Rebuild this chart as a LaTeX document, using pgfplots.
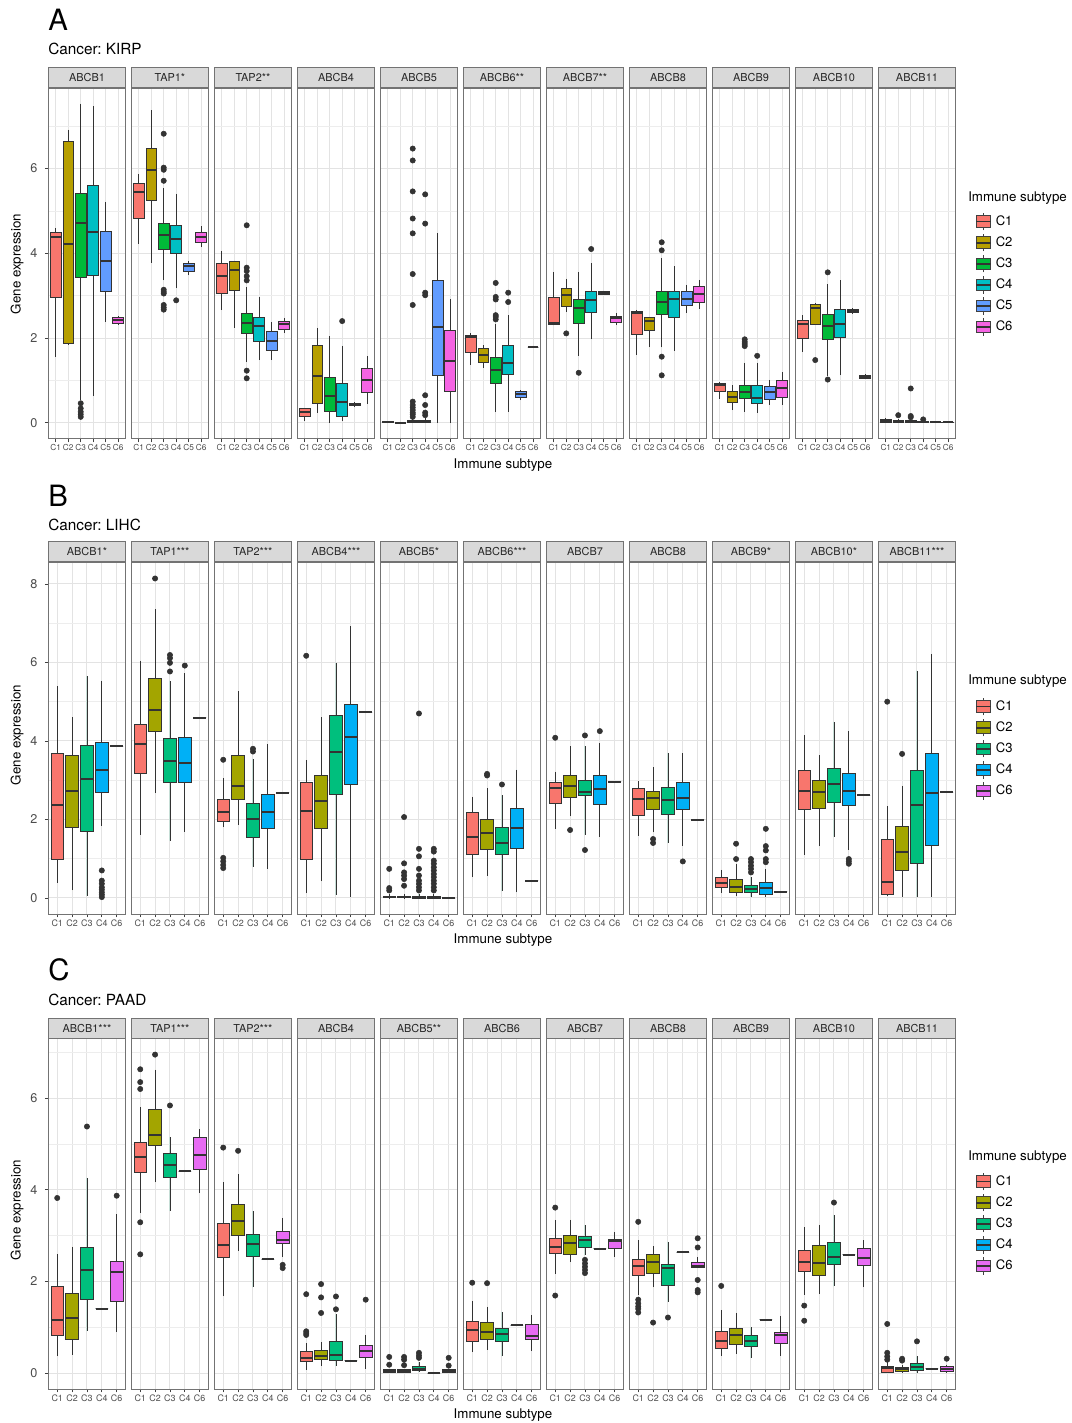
\documentclass[border=0pt]{standalone}
\usepackage{fontspec}
\setmainfont{TeX Gyre Heros}
\usepackage{pgfplots}
\pgfplotsset{compat=1.18}
\usepgfplotslibrary{statistics}
\frenchspacing

\definecolor{c1}{HTML}{F8766D}
\definecolor{c2}{HTML}{B79F00}
\definecolor{c3}{HTML}{00BA38}
\definecolor{c4}{HTML}{00BFC4}
\definecolor{c5}{HTML}{619CFF}
\definecolor{c6}{HTML}{F564E3}
\definecolor{d1}{HTML}{F8766D}
\definecolor{d2}{HTML}{A3A500}
\definecolor{d3}{HTML}{00BF7D}
\definecolor{d4}{HTML}{00B0F6}
\definecolor{d5}{HTML}{E76BF3}

\newcommand{\bx}[7]{\addplot[forget plot, fill=#2, draw=black!80, line width=0.6pt,
  boxplot prepared={draw direction=y, draw position=#1, lower whisker=#3, lower quartile=#4, median=#5, upper quartile=#6, upper whisker=#7}] coordinates {};}
\newcommand{\one}[3]{\bx{#1}{#2}{#3}{#3}{#3}{#3}{#3}}
\newcommand{\outl}[1]{\addplot[forget plot, only marks, mark=*, mark size=2pt, color=black!80] coordinates {#1};}

\pgfplotsset{
  fbase/.style={
    scale only axis, width=57.975pt, anchor=south west, xmin=0.4,
    tick pos=left, tick align=outside, major tick length=2.6pt, minor tick length=0pt,
    tick style={black!75, line width=0.5pt},
    axis line style={black!55, line width=0.6pt},
    grid=both,
    major grid style={black!11, line width=0.7pt},
    minor grid style={black!7, line width=0.4pt},
    xticklabel style={font=\fontsize{6.7}{7}\selectfont, text=black!70, inner sep=1.5pt},
    yticklabel style={font=\fontsize{9.5}{10}\selectfont, text=black!70, xshift=-2pt},
    /pgf/number format/assume math mode=true,
    every axis title shift=0pt,
    title style={at={(0.5,1)}, anchor=south, draw=black!55, line width=0.6pt, fill=black!15,
      minimum width=57.975pt, minimum height=15pt, inner sep=0pt,
      font=\fontsize{8.2}{9}\selectfont, text=black!85},
    boxplot/draw direction=y,
    boxplot/box extend=0.85, boxplot/whisker extend=0,
    boxplot/every median/.style={line width=1.5pt},
  },
  fA/.style={fbase, height=263.1pt, ymin=-0.377, ymax=7.9, xmax=6.6,
    xtick={1,2,3,4,5,6}, xticklabels={C1,C2,C3,C4,C5,C6},
    xticklabel style={font=\fontsize{6.2}{7}\selectfont},
    ytick={0,2,4,6}, minor ytick={1,3,5,7}},
  fB/.style={fbase, height=264pt, ymin=-0.41, ymax=8.56, xmax=5.6,
    xtick={1,2,3,4,5}, xticklabels={C1,C2,C3,C4,C6},
    ytick={0,2,4,6,8}, minor ytick={1,3,5,7}},
  fC/.style={fbase, height=262.8pt, ymin=-0.35, ymax=7.3, xmax=5.6,
    xtick={1,2,3,4,5}, xticklabels={C1,C2,C3,C4,C6},
    ytick={0,2,4,6}, minor ytick={1,3,5,7}},
  noy/.style={yticklabels={}, ytick style={draw=none}},
  boxkey/.style={legend image code/.code={
      \draw[black!75, line width=0.6pt] (5.5pt,-6.5pt) -- (5.5pt,6.5pt);
      \draw[black!75, line width=0.6pt, fill=#1] (0pt,-4.4pt) rectangle (11pt,4.4pt);
      \draw[black!80, line width=1.2pt] (0pt,0pt) -- (11pt,0pt);}},
  leg/.style={legend cell align=left,
    legend style={at={(1.251,#1)}, anchor=north west, draw=none, fill=none,
      font=\fontsize{9.8}{11}\selectfont, row sep=2.2pt, column sep=3.2pt,
      inner sep=0pt, nodes={inner sep=0pt}}},
}

\begin{document}
\begin{tikzpicture}
\useasboundingbox (0pt,0pt) rectangle (803.25pt,1067.25pt);
\tikzset{lbl/.style={inner sep=0pt}}

% ================= PANEL A =================
\node[lbl, anchor=west, font=\fontsize{22}{24}\selectfont] at (36pt,1052.25pt) {A};
\node[lbl, anchor=west, font=\fontsize{11.5}{13}\selectfont] at (36pt,1030.5pt) {Cancer: KIRP};
\node[lbl, rotate=90, font=\fontsize{10}{12}\selectfont] at (12.75pt,869.25pt) {Gene expression};
\node[lbl, font=\fontsize{10}{12}\selectfont] at (377.25pt,718.5pt) {Immune subtype};
\node[lbl, anchor=west, font=\fontsize{10}{12}\selectfont] at (726pt,918.5pt) {Immune subtype};

\begin{axis}[fA, at={(36.225pt,738.15pt)}, title={ABCB1}]
\bx{1}{c1}{1.56}{2.96}{4.39}{4.50}{4.60}
\bx{2}{c2}{1.85}{1.87}{4.21}{6.63}{6.92}
\bx{3}{c3}{0.53}{3.42}{4.72}{5.41}{7.53}
\bx{4}{c4}{0.63}{3.48}{4.50}{5.61}{7.47}
\bx{5}{c5}{2.38}{3.09}{3.81}{4.51}{5.21}
\bx{6}{c6}{2.33}{2.34}{2.42}{2.48}{2.52}
\outl{(3,0.46)(3,0.34)(3,0.26)(3,0.20)(3,0.14)}
\end{axis}
\begin{axis}[fA, noy, at={(98.475pt,738.15pt)}, title={TAP1*}]
\bx{1}{c1}{4.23}{4.82}{5.45}{5.66}{5.88}
\bx{2}{c2}{3.78}{5.25}{5.97}{6.47}{7.37}
\bx{3}{c3}{3.36}{4.09}{4.43}{4.70}{5.53}
\bx{4}{c4}{3.17}{3.99}{4.33}{4.66}{5.41}
\bx{5}{c5}{3.48}{3.58}{3.69}{3.76}{3.82}
\bx{6}{c6}{4.14}{4.25}{4.39}{4.49}{4.64}
\outl{(3,6.82)(3,6.02)(3,5.97)(3,5.71)(3,3.14)(3,3.09)(3,3.05)(3,2.78)(3,2.72)(3,2.67)(4,2.89)}
\end{axis}
\begin{axis}[fA, noy, at={(160.725pt,738.15pt)}, title={TAP2**}]
\bx{1}{c1}{2.66}{3.05}{3.46}{3.76}{4.06}
\bx{2}{c2}{2.24}{3.13}{3.60}{3.80}{3.82}
\bx{3}{c3}{1.44}{2.12}{2.36}{2.59}{3.21}
\bx{4}{c4}{1.48}{1.93}{2.29}{2.48}{2.97}
\bx{5}{c5}{1.48}{1.70}{1.93}{2.15}{2.38}
\bx{6}{c6}{2.11}{2.20}{2.32}{2.40}{2.48}
\outl{(3,4.66)(3,3.66)(3,3.58)(3,3.46)(3,3.36)(3,1.23)(3,1.05)}
\end{axis}
\begin{axis}[fA, noy, at={(222.975pt,738.15pt)}, title={ABCB4}]
\bx{1}{c1}{0.05}{0.14}{0.26}{0.33}{0.35}
\bx{2}{c2}{0.24}{0.46}{1.10}{1.82}{2.24}
\bx{3}{c3}{0.00}{0.28}{0.63}{1.07}{2.04}
\bx{4}{c4}{0.05}{0.14}{0.48}{0.93}{1.82}
\bx{5}{c5}{0.38}{0.40}{0.43}{0.46}{0.48}
\bx{6}{c6}{0.44}{0.72}{1.01}{1.28}{1.57}
\outl{(4,2.40)}
\end{axis}
\begin{axis}[fA, noy, at={(285.225pt,738.15pt)}, title={ABCB5}]
\bx{1}{c1}{0.00}{0.01}{0.02}{0.03}{0.04}
\bx{2}{c2}{-0.01}{0.00}{0.00}{0.01}{0.02}
\bx{3}{c3}{0.00}{0.00}{0.02}{0.05}{0.10}
\bx{4}{c4}{0.00}{0.01}{0.03}{0.06}{0.12}
\bx{5}{c5}{0.00}{1.12}{2.25}{3.36}{4.48}
\bx{6}{c6}{0.00}{0.73}{1.45}{2.17}{2.91}
\outl{(3,6.47)(3,6.19)(3,5.46)(3,4.82)(3,4.47)(3,3.51)(3,2.78)(3,0.50)(3,0.42)(3,0.36)(3,0.30)(3,0.24)(3,0.20)(3,0.14)(4,5.39)(4,4.70)(4,3.07)(4,3.01)(4,0.65)(4,0.42)(4,0.24)(4,0.18)}
\end{axis}
\begin{axis}[fA, noy, at={(347.475pt,738.15pt)}, title={ABCB6**}]
\bx{1}{c1}{1.36}{1.67}{2.03}{2.07}{2.11}
\bx{2}{c2}{1.30}{1.42}{1.60}{1.75}{1.83}
\bx{3}{c3}{0.26}{0.94}{1.24}{1.54}{2.34}
\bx{4}{c4}{0.26}{1.14}{1.42}{1.82}{2.54}
\bx{5}{c5}{0.53}{0.59}{0.67}{0.73}{0.77}
\one{6}{c6}{1.79}
\outl{(3,3.30)(3,2.97)(3,2.91)(3,2.54)(3,2.50)(3,2.44)(4,3.07)(4,2.85)}
\end{axis}
\begin{axis}[fA, noy, at={(409.725pt,738.15pt)}, title={ABCB7**}]
\bx{1}{c1}{2.30}{2.32}{2.36}{2.96}{3.56}
\bx{2}{c2}{2.62}{2.74}{3.01}{3.16}{3.40}
\bx{3}{c3}{1.58}{2.34}{2.70}{2.92}{3.56}
\bx{4}{c4}{1.97}{2.60}{2.89}{3.11}{3.77}
\bx{5}{c5}{3.02}{3.04}{3.07}{3.10}{3.12}
\bx{6}{c6}{2.30}{2.37}{2.48}{2.52}{2.58}
\outl{(2,2.11)(3,1.18)(4,4.10)}
\end{axis}
\begin{axis}[fA, noy, at={(471.975pt,738.15pt)}, title={ABCB8}]
\bx{1}{c1}{1.60}{2.09}{2.58}{2.64}{2.67}
\bx{2}{c2}{1.78}{2.17}{2.41}{2.48}{2.50}
\bx{3}{c3}{1.78}{2.56}{2.85}{3.11}{3.88}
\bx{4}{c4}{1.70}{2.48}{2.91}{3.11}{3.69}
\bx{5}{c5}{2.60}{2.76}{2.93}{3.09}{3.26}
\bx{6}{c6}{2.68}{2.85}{3.03}{3.21}{3.38}
\outl{(3,4.26)(3,4.07)(3,1.56)(3,1.12)}
\end{axis}
\begin{axis}[fA, noy, at={(534.225pt,738.15pt)}, title={ABCB9}]
\bx{1}{c1}{0.57}{0.73}{0.89}{0.93}{0.96}
\bx{2}{c2}{0.30}{0.47}{0.61}{0.73}{0.89}
\bx{3}{c3}{0.26}{0.57}{0.72}{0.89}{1.42}
\bx{4}{c4}{0.24}{0.46}{0.59}{0.89}{1.42}
\bx{5}{c5}{0.43}{0.56}{0.72}{0.85}{1.01}
\bx{6}{c6}{0.42}{0.60}{0.81}{1.01}{1.20}
\outl{(3,1.97)(3,1.91)(3,1.86)(3,1.81)(4,1.58)}
\end{axis}
\begin{axis}[fA, noy, at={(596.475pt,738.15pt)}, title={ABCB10}]
\bx{1}{c1}{1.67}{1.99}{2.32}{2.42}{2.54}
\bx{2}{c2}{2.32}{2.32}{2.72}{2.80}{2.83}
\bx{3}{c3}{1.10}{1.97}{2.28}{2.56}{3.27}
\bx{4}{c4}{1.12}{2.01}{2.34}{2.67}{3.36}
\bx{5}{c5}{2.58}{2.60}{2.64}{2.68}{2.70}
\bx{6}{c6}{1.03}{1.05}{1.08}{1.12}{1.15}
\outl{(2,1.48)(3,1.02)(3,3.55)}
\end{axis}
\begin{axis}[fA, noy, at={(658.725pt,738.15pt)}, title={ABCB11}, leg=0.6455]
\bx{1}{c1}{0.00}{0.02}{0.05}{0.08}{0.12}
\bx{2}{c2}{0.00}{0.02}{0.04}{0.06}{0.08}
\bx{3}{c3}{0.00}{0.00}{0.02}{0.05}{0.10}
\bx{4}{c4}{0.00}{0.01}{0.02}{0.04}{0.06}
\bx{5}{c5}{0.01}{0.01}{0.02}{0.02}{0.03}
\bx{6}{c6}{0.01}{0.01}{0.02}{0.02}{0.03}
\outl{(2,0.18)(3,0.81)(3,0.16)(3,0.13)(4,0.08)}
\addlegendimage{boxkey=c1}\addlegendentry{C1}
\addlegendimage{boxkey=c2}\addlegendentry{C2}
\addlegendimage{boxkey=c3}\addlegendentry{C3}
\addlegendimage{boxkey=c4}\addlegendentry{C4}
\addlegendimage{boxkey=c5}\addlegendentry{C5}
\addlegendimage{boxkey=c6}\addlegendentry{C6}
\end{axis}

% ================= PANEL B =================
\node[lbl, anchor=west, font=\fontsize{22}{24}\selectfont] at (36pt,695.25pt) {B};
\node[lbl, anchor=west, font=\fontsize{11.5}{13}\selectfont] at (36pt,673.5pt) {Cancer: LIHC};
\node[lbl, rotate=90, font=\fontsize{10}{12}\selectfont] at (12.75pt,516pt) {Gene expression};
\node[lbl, font=\fontsize{10}{12}\selectfont] at (377.25pt,362.25pt) {Immune subtype};
\node[lbl, anchor=west, font=\fontsize{10}{12}\selectfont] at (726pt,556.25pt) {Immune subtype};

\begin{axis}[fB, at={(36.225pt,381.75pt)}, title={ABCB1*}]
\bx{1}{d1}{0.38}{0.98}{2.38}{3.69}{5.39}
\bx{2}{d2}{0.19}{1.79}{2.73}{3.63}{4.60}
\bx{3}{d3}{0.06}{1.70}{3.03}{3.88}{5.65}
\bx{4}{d4}{1.84}{2.69}{3.27}{3.97}{5.54}
\one{5}{d5}{3.86}
\outl{(4,0.70)(4,0.44)(4,0.36)(4,0.27)(4,0.21)(4,0.14)(4,0.08)(4,0.02)}
\end{axis}
\begin{axis}[fB, noy, at={(98.475pt,381.75pt)}, title={TAP1***}]
\bx{1}{d1}{1.61}{3.17}{3.92}{4.43}{6.03}
\bx{2}{d2}{2.67}{4.24}{4.79}{5.60}{7.36}
\bx{3}{d3}{1.46}{2.95}{3.50}{4.07}{5.54}
\bx{4}{d4}{1.69}{2.95}{3.43}{4.09}{5.73}
\one{5}{d5}{4.59}
\outl{(2,8.14)(3,6.19)(3,6.11)(3,5.99)(3,5.77)(4,5.92)}
\end{axis}
\begin{axis}[fB, noy, at={(160.725pt,381.75pt)}, title={TAP2***}]
\bx{1}{d1}{1.80}{1.94}{2.20}{2.52}{3.06}
\bx{2}{d2}{1.87}{2.50}{2.86}{3.63}{5.26}
\bx{3}{d3}{0.80}{1.55}{2.00}{2.41}{3.54}
\bx{4}{d4}{0.74}{1.77}{2.18}{2.65}{3.91}
\one{5}{d5}{2.68}
\outl{(1,3.52)(1,1.02)(1,0.93)(1,0.84)(1,0.76)(3,3.80)(3,3.73)}
\end{axis}
\begin{axis}[fB, noy, at={(222.975pt,381.75pt)}, title={ABCB4***}]
\bx{1}{d1}{0.12}{0.98}{2.21}{2.95}{3.52}
\bx{2}{d2}{0.42}{1.78}{2.46}{3.13}{4.60}
\bx{3}{d3}{0.08}{2.65}{3.73}{4.65}{5.99}
\bx{4}{d4}{0.03}{2.88}{4.09}{4.94}{6.92}
\one{5}{d5}{4.73}
\outl{(1,6.17)}
\end{axis}
\begin{axis}[fB, noy, at={(285.225pt,381.75pt)}, title={ABCB5*}]
\bx{1}{d1}{0.00}{0.01}{0.03}{0.05}{0.10}
\bx{2}{d2}{0.00}{0.01}{0.03}{0.05}{0.10}
\bx{3}{d3}{0.00}{0.00}{0.02}{0.04}{0.10}
\bx{4}{d4}{0.00}{0.00}{0.02}{0.04}{0.10}
\one{5}{d5}{0.00}
\outl{(1,0.74)(1,0.25)(1,0.19)(2,2.06)(2,0.88)(2,0.65)(2,0.57)(2,0.48)(2,0.31)(3,4.70)(3,1.25)(3,1.06)(3,0.74)(3,0.57)(3,0.44)(3,0.36)(3,0.27)(3,0.19)(4,1.25)(4,1.18)(4,0.95)(4,0.87)(4,0.78)(4,0.70)(4,0.61)(4,0.53)(4,0.44)(4,0.36)(4,0.27)(4,0.19)}
\end{axis}
\begin{axis}[fB, noy, at={(347.475pt,381.75pt)}, title={ABCB6***}]
\bx{1}{d1}{0.53}{1.10}{1.56}{2.17}{2.58}
\bx{2}{d2}{0.57}{1.23}{1.65}{1.99}{2.79}
\bx{3}{d3}{0.17}{1.10}{1.39}{1.80}{2.61}
\bx{4}{d4}{0.14}{1.27}{1.77}{2.27}{3.27}
\one{5}{d5}{0.44}
\outl{(2,3.16)(2,3.12)(3,2.89)}
\end{axis}
\begin{axis}[fB, noy, at={(409.725pt,381.75pt)}, title={ABCB7}]
\bx{1}{d1}{1.76}{2.42}{2.79}{2.95}{3.22}
\bx{2}{d2}{2.08}{2.56}{2.85}{3.12}{3.86}
\bx{3}{d3}{1.61}{2.61}{2.71}{2.99}{3.88}
\bx{4}{d4}{1.56}{2.39}{2.78}{3.12}{3.94}
\one{5}{d5}{2.96}
\outl{(1,4.08)(2,1.73)(3,4.14)(3,1.22)(4,4.25)}
\end{axis}
\begin{axis}[fB, noy, at={(471.975pt,381.75pt)}, title={ABCB8}]
\bx{1}{d1}{1.59}{2.11}{2.52}{2.78}{2.99}
\bx{2}{d2}{1.67}{2.25}{2.55}{2.71}{3.33}
\bx{3}{d3}{1.40}{2.14}{2.50}{2.82}{3.69}
\bx{4}{d4}{1.33}{2.25}{2.55}{2.95}{3.69}
\one{5}{d5}{1.99}
\outl{(2,1.50)(2,1.40)(4,0.93)}
\end{axis}
\begin{axis}[fB, noy, at={(534.225pt,381.75pt)}, title={ABCB9*}]
\bx{1}{d1}{0.13}{0.27}{0.37}{0.51}{0.72}
\bx{2}{d2}{0.06}{0.13}{0.29}{0.46}{0.87}
\bx{3}{d3}{0.03}{0.14}{0.23}{0.33}{0.53}
\bx{4}{d4}{0.03}{0.10}{0.25}{0.40}{0.74}
\one{5}{d5}{0.16}
\outl{(2,1.38)(2,0.99)(3,0.99)(3,0.91)(3,0.82)(3,0.74)(3,0.65)(4,1.76)(4,1.32)(4,1.21)(4,0.99)(4,0.91)}
\end{axis}
\begin{axis}[fB, noy, at={(596.475pt,381.75pt)}, title={ABCB10*}]
\bx{1}{d1}{1.10}{2.25}{2.72}{3.26}{4.15}
\bx{2}{d2}{1.32}{2.28}{2.69}{2.99}{3.63}
\bx{3}{d3}{1.56}{2.44}{2.90}{3.31}{4.48}
\bx{4}{d4}{1.23}{2.35}{2.73}{3.18}{4.26}
\one{5}{d5}{2.62}
\outl{(4,0.99)(4,0.93)(4,0.87)}
\end{axis}
\begin{axis}[fB, noy, at={(658.725pt,381.75pt)}, title={ABCB11***}, leg=0.6155]
\bx{1}{d1}{0.04}{0.08}{0.40}{1.50}{2.33}
\bx{2}{d2}{0.02}{0.71}{1.16}{1.83}{2.86}
\bx{3}{d3}{0.02}{0.88}{2.37}{3.24}{5.79}
\bx{4}{d4}{0.02}{1.35}{2.68}{3.67}{6.22}
\one{5}{d5}{2.69}
\outl{(1,5.00)(2,3.67)}
\addlegendimage{boxkey=d1}\addlegendentry{C1}
\addlegendimage{boxkey=d2}\addlegendentry{C2}
\addlegendimage{boxkey=d3}\addlegendentry{C3}
\addlegendimage{boxkey=d4}\addlegendentry{C4}
\addlegendimage{boxkey=d5}\addlegendentry{C6}
\end{axis}

% ================= PANEL C =================
\node[lbl, anchor=west, font=\fontsize{22}{24}\selectfont] at (36pt,339.75pt) {C};
\node[lbl, anchor=west, font=\fontsize{11.5}{13}\selectfont] at (36pt,317.25pt) {Cancer: PAAD};
\node[lbl, rotate=90, font=\fontsize{10}{12}\selectfont] at (12.75pt,159.75pt) {Gene expression};
\node[lbl, font=\fontsize{10}{12}\selectfont] at (377.25pt,6pt) {Immune subtype};
\node[lbl, anchor=west, font=\fontsize{10}{12}\selectfont] at (726pt,199.25pt) {Immune subtype};

\begin{axis}[fC, at={(36.225pt,25.5pt)}, title={ABCB1***}]
\bx{1}{d1}{0.36}{0.81}{1.16}{1.90}{2.60}
\bx{2}{d2}{0.40}{0.74}{1.21}{1.73}{2.76}
\bx{3}{d3}{0.92}{1.61}{2.24}{2.74}{4.26}
\one{4}{d4}{1.40}
\bx{5}{d5}{0.89}{1.56}{2.20}{2.43}{3.47}
\outl{(1,3.82)(3,5.38)(5,3.87)}
\end{axis}
\begin{axis}[fC, noy, at={(98.475pt,25.5pt)}, title={TAP1***}]
\bx{1}{d1}{3.50}{4.37}{4.72}{5.04}{5.81}
\bx{2}{d2}{4.16}{4.97}{5.20}{5.75}{6.62}
\bx{3}{d3}{3.54}{4.28}{4.54}{4.79}{5.15}
\one{4}{d4}{4.40}
\bx{5}{d5}{3.92}{4.45}{4.75}{5.15}{5.32}
\outl{(1,6.63)(1,6.35)(1,6.20)(1,3.29)(1,2.59)(2,6.95)(3,5.84)}
\end{axis}
\begin{axis}[fC, noy, at={(160.725pt,25.5pt)}, title={TAP2***}]
\bx{1}{d1}{1.67}{2.53}{2.79}{3.27}{4.16}
\bx{2}{d2}{2.67}{3.00}{3.32}{3.68}{4.34}
\bx{3}{d3}{1.87}{2.54}{2.82}{3.03}{3.54}
\one{4}{d4}{2.48}
\bx{5}{d5}{2.54}{2.83}{2.90}{3.10}{3.39}
\outl{(1,4.92)(2,4.85)(5,2.36)(5,2.29)}
\end{axis}
\begin{axis}[fC, noy, at={(222.975pt,25.5pt)}, title={ABCB4}]
\bx{1}{d1}{0.07}{0.25}{0.33}{0.47}{0.65}
\bx{2}{d2}{0.16}{0.29}{0.36}{0.49}{0.67}
\bx{3}{d3}{0.15}{0.27}{0.40}{0.70}{1.28}
\one{4}{d4}{0.27}
\bx{5}{d5}{0.09}{0.35}{0.47}{0.60}{0.83}
\outl{(1,1.72)(1,0.91)(1,0.87)(1,0.83)(2,1.94)(2,1.65)(2,1.31)(3,1.67)(3,1.39)(5,1.60)}
\end{axis}
\begin{axis}[fC, noy, at={(285.225pt,25.5pt)}, title={ABCB5**}]
\bx{1}{d1}{0.00}{0.02}{0.05}{0.08}{0.09}
\bx{2}{d2}{0.00}{0.02}{0.04}{0.07}{0.09}
\bx{3}{d3}{0.02}{0.05}{0.09}{0.15}{0.23}
\one{4}{d4}{0.00}
\bx{5}{d5}{0.00}{0.02}{0.04}{0.07}{0.09}
\outl{(1,0.35)(1,0.18)(2,0.35)(2,0.29)(2,0.17)(3,0.44)(3,0.38)(3,0.33)(5,0.33)(5,0.16)}
\end{axis}
\begin{axis}[fC, noy, at={(347.475pt,25.5pt)}, title={ABCB6}]
\bx{1}{d1}{0.45}{0.70}{0.93}{1.12}{1.58}
\bx{2}{d2}{0.51}{0.74}{0.89}{1.11}{1.45}
\bx{3}{d3}{0.36}{0.69}{0.85}{0.98}{1.33}
\one{4}{d4}{1.04}
\bx{5}{d5}{0.47}{0.74}{0.81}{1.05}{1.27}
\outl{(1,1.97)(2,1.96)}
\end{axis}
\begin{axis}[fC, noy, at={(409.725pt,25.5pt)}, title={ABCB7}]
\bx{1}{d1}{2.16}{2.61}{2.76}{2.94}{3.34}
\bx{2}{d2}{2.42}{2.58}{2.83}{3.01}{3.35}
\bx{3}{d3}{2.58}{2.74}{2.90}{2.98}{3.23}
\one{4}{d4}{2.71}
\bx{5}{d5}{2.53}{2.72}{2.88}{2.92}{3.07}
\outl{(1,3.61)(1,1.69)(3,2.47)(3,2.39)(3,2.32)(3,2.25)(3,2.18)}
\end{axis}
\begin{axis}[fC, noy, at={(471.975pt,25.5pt)}, title={ABCB8}]
\bx{1}{d1}{1.71}{2.13}{2.34}{2.47}{2.90}
\bx{2}{d2}{1.87}{2.18}{2.43}{2.59}{2.77}
\bx{3}{d3}{1.56}{1.92}{2.29}{2.36}{2.87}
\one{4}{d4}{2.63}
\bx{5}{d5}{2.30}{2.30}{2.34}{2.42}{2.54}
\outl{(1,3.30)(1,1.60)(1,1.52)(1,1.45)(1,1.40)(1,1.32)(2,1.10)(3,1.21)(5,2.94)(5,2.74)(5,2.03)(5,1.81)(5,1.76)}
\end{axis}
\begin{axis}[fC, noy, at={(534.225pt,25.5pt)}, title={ABCB9}]
\bx{1}{d1}{0.38}{0.54}{0.69}{0.91}{1.38}
\bx{2}{d2}{0.42}{0.63}{0.83}{0.98}{1.31}
\bx{3}{d3}{0.33}{0.57}{0.69}{0.83}{1.00}
\one{4}{d4}{1.16}
\bx{5}{d5}{0.38}{0.64}{0.82}{0.89}{1.25}
\outl{(1,1.90)}
\end{axis}
\begin{axis}[fC, noy, at={(596.475pt,25.5pt)}, title={ABCB10}]
\bx{1}{d1}{1.71}{2.21}{2.43}{2.67}{3.18}
\bx{2}{d2}{1.72}{2.14}{2.39}{2.79}{3.24}
\bx{3}{d3}{1.89}{2.37}{2.54}{2.84}{3.45}
\one{4}{d4}{2.58}
\bx{5}{d5}{1.87}{2.34}{2.50}{2.72}{2.90}
\outl{(1,1.47)(1,1.14)(3,3.72)}
\end{axis}
\begin{axis}[fC, noy, at={(658.725pt,25.5pt)}, title={ABCB11}, leg=0.6183]
\bx{1}{d1}{0.01}{0.02}{0.11}{0.15}{0.25}
\bx{2}{d2}{0.01}{0.04}{0.09}{0.13}{0.18}
\bx{3}{d3}{0.01}{0.05}{0.12}{0.20}{0.36}
\one{4}{d4}{0.09}
\bx{5}{d5}{0.01}{0.04}{0.09}{0.15}{0.18}
\outl{(1,1.07)(1,0.44)(1,0.36)(1,0.29)(2,0.31)(2,0.27)(3,0.69)(5,0.31)}
\addlegendimage{boxkey=d1}\addlegendentry{C1}
\addlegendimage{boxkey=d2}\addlegendentry{C2}
\addlegendimage{boxkey=d3}\addlegendentry{C3}
\addlegendimage{boxkey=d4}\addlegendentry{C4}
\addlegendimage{boxkey=d5}\addlegendentry{C6}
\end{axis}
\end{tikzpicture}
\end{document}
